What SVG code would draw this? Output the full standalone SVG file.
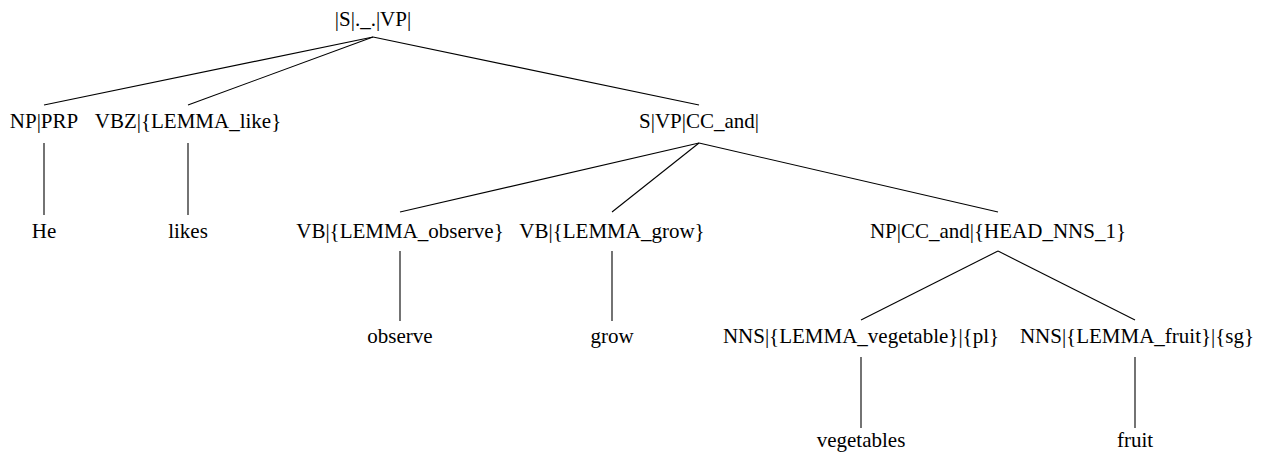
<svg xmlns="http://www.w3.org/2000/svg" width="1265" height="457" viewBox="0 0 1265 457">
<style>
text{font-family:"Liberation Serif","Times New Roman",serif;font-size:21px;fill:#000;text-anchor:middle}
.e line{stroke:#000;stroke-width:1.1}
</style>
<rect width="1265" height="457" fill="#fff"/>
<g class="e" id="edges">
<line x1="373" y1="37" x2="44" y2="105"/>
<line x1="373" y1="37" x2="188" y2="105"/>
<line x1="373" y1="37" x2="699" y2="105"/>
<line x1="44" y1="143" x2="44" y2="215"/>
<line x1="188" y1="143" x2="188" y2="215"/>
<line x1="699" y1="143" x2="400" y2="212"/>
<line x1="699" y1="143" x2="612" y2="212"/>
<line x1="699" y1="143" x2="998" y2="212"/>
<line x1="400" y1="251" x2="400" y2="321"/>
<line x1="612" y1="251" x2="612" y2="321"/>
<line x1="998" y1="251" x2="861" y2="320"/>
<line x1="998" y1="251" x2="1135" y2="320"/>
<line x1="861" y1="357" x2="861" y2="428"/>
<line x1="1135" y1="357" x2="1135" y2="428"/>
</g>
<g id="n_root"><text x="373" y="26">|S|._.|VP|</text></g>
<g id="n_np"><text x="44" y="128">NP|PRP</text></g>
<g id="n_vbz"><text x="188" y="128">VBZ|{LEMMA_like}</text></g>
<g id="n_svp"><text x="699" y="128">S|VP|CC_and|</text></g>
<g id="n_he"><text x="44" y="238">He</text></g>
<g id="n_likes"><text x="188" y="238">likes</text></g>
<g id="n_vbobs"><text x="400" y="238">VB|{LEMMA_observe}</text></g>
<g id="n_vbgrow"><text x="612" y="238">VB|{LEMMA_grow}</text></g>
<g id="n_npcc"><text x="998" y="238">NP|CC_and|{HEAD_NNS_1}</text></g>
<g id="n_observe"><text x="400" y="343">observe</text></g>
<g id="n_grow"><text x="612" y="343">grow</text></g>
<g id="n_nnsveg"><text x="861" y="343">NNS|{LEMMA_vegetable}|{pl}</text></g>
<g id="n_nnsfruit"><text x="1137" y="343">NNS|{LEMMA_fruit}|{sg}</text></g>
<g id="n_vegetables"><text x="861" y="447">vegetables</text></g>
<g id="n_fruit"><text x="1135" y="447">fruit</text></g>
</svg>
